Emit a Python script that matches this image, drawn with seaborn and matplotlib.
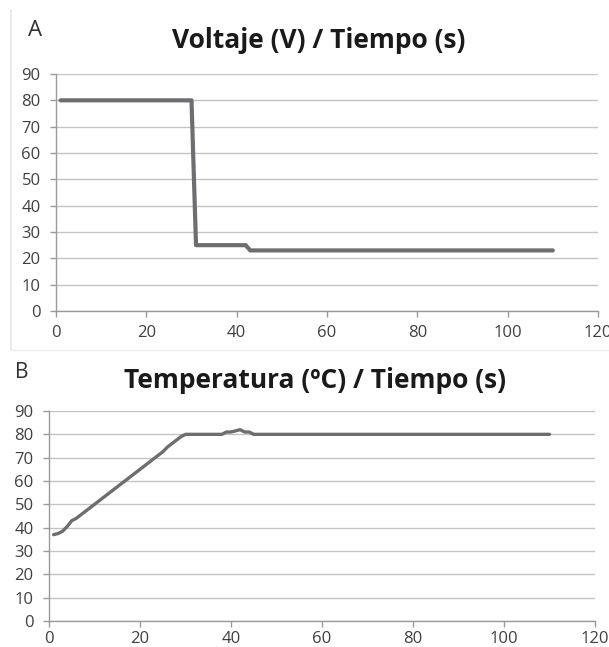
import matplotlib
matplotlib.use("Agg")
import matplotlib.pyplot as plt
import seaborn as sns
import pandas as pd
from matplotlib.lines import Line2D

# ---- data ----
volt_time = [1, 30, 31, 42, 43, 110]
volt_values = [80, 80, 25, 25, 23, 23]

temp_time = [1, 2, 3, 4, 5, 6, 7, 8, 9, 10, 11, 12, 13, 14, 15, 16, 17, 18, 19, 20,
             21, 22, 23, 24, 25, 26, 27, 28, 29, 30, 38, 39, 40, 41, 42, 43, 44, 45, 110]
temp_values = [37, 37.5, 38.5, 40.5, 43, 44, 45.5, 47, 48.5, 50, 51.5, 53, 54.5, 56, 57.5,
               59, 60.5, 62, 63.5, 65, 66.5, 68, 69.5, 71, 72.5, 74.5, 76, 77.5, 79, 80,
               80, 81, 81, 81.5, 82, 81, 81, 80, 80]

x_ticks = [0, 20, 40, 60, 80, 100, 120]
y_ticks = [0, 10, 20, 30, 40, 50, 60, 70, 80, 90]

title_a = "Voltaje (V) / Tiempo (s)"
title_b = "Temperatura (ºC) / Tiempo (s)"

df_v = pd.DataFrame({"t": volt_time, "v": volt_values})
df_t = pd.DataFrame({"t": temp_time, "v": temp_values})

sns.set_theme(style="white")
plt.rcParams['font.family'] = ['Open Sans', 'DejaVu Sans']

fig = plt.figure(figsize=(6.09, 6.47), dpi=100)
W, H = 609, 647

def ax_at(l, t, r, b):
    return fig.add_axes([l / W, 1 - b / H, (r - l) / W, (b - t) / H])

ax1 = ax_at(56, 74, 598, 311)
ax2 = ax_at(49, 411, 595, 621)

line_col = "#6e6e72"
grid_col = "#c4c4c4"
spine_col = "#9a9a9a"
text_col = "#404040"

for ax, df, lw, xpad in [(ax1, df_v, 3.0, 5.5), (ax2, df_t, 2.4, 3.0)]:
    sns.lineplot(data=df, x="t", y="v", ax=ax, color=line_col, linewidth=lw)
    ax.set_xlim(0, 120)
    ax.set_ylim(0, 90)
    ax.set_xticks(x_ticks)
    ax.set_yticks(y_ticks)
    ax.set_xlabel("")
    ax.set_ylabel("")
    ax.grid(axis="y", color=grid_col, linewidth=1.0)
    ax.set_axisbelow(True)
    for s in ["top", "right"]:
        ax.spines[s].set_visible(False)
    for s in ["left", "bottom"]:
        ax.spines[s].set_color(spine_col)
        ax.spines[s].set_linewidth(1.0)
    ax.tick_params(axis="both", which="major", length=4.5, width=1, color=spine_col,
                   labelsize=12, labelcolor=text_col, direction="out",
                   bottom=True, left=True)
    ax.tick_params(axis="x", pad=xpad)
    ax.tick_params(axis="y", pad=6.5)

fig.text(319 / W, 1 - 40 / H, title_a, ha="center", va="center",
         fontsize=19, fontweight="bold", color="#1a1a1a")
fig.text(315 / W, 1 - 380 / H, title_b, ha="center", va="center",
         fontsize=19, fontweight="bold", color="#1a1a1a")
fig.text(35 / W, 1 - 30 / H, "A", ha="center", va="center", fontsize=16, color="#303030")
fig.text(22 / W, 1 - 373 / H, "B", ha="center", va="center", fontsize=15, color="#303030")

# faint panel border of A
fig.add_artist(Line2D([11 / W, 11 / W], [1 - 10 / H, 1 - 350 / H], color="#e6e6e6", linewidth=1.2))
fig.add_artist(Line2D([11 / W, 1.0], [1 - 350 / H, 1 - 350 / H], color="#eeeeee", linewidth=1.0))

fig.savefig("out.png", dpi=100, facecolor="white")
